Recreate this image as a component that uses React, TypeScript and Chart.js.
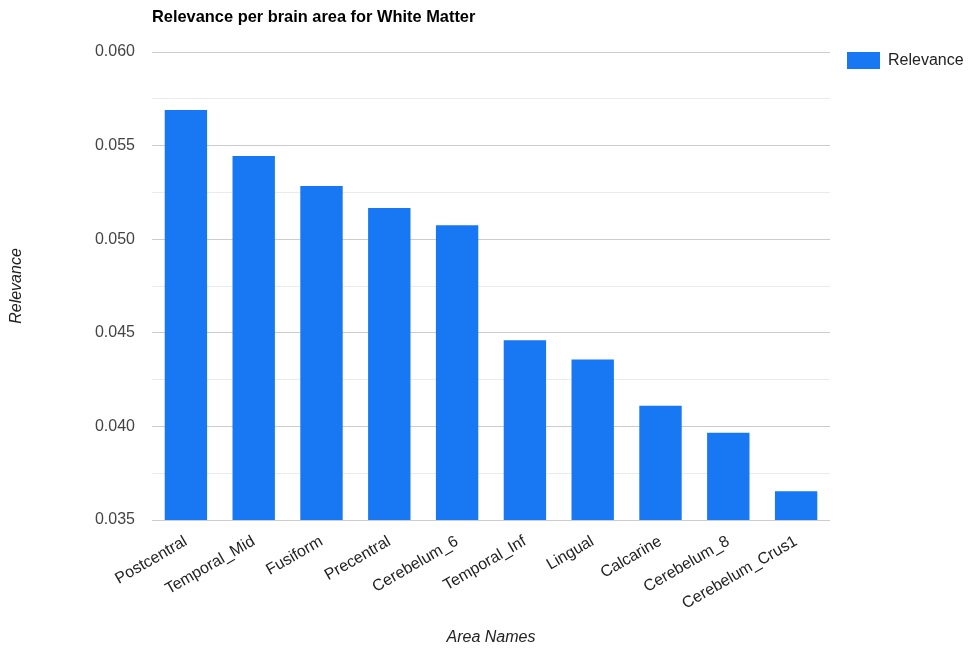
import React, { useEffect, useRef } from "react";
import { Chart, registerables } from "chart.js";

Chart.register(...registerables);

const categories = [
  "Postcentral",
  "Temporal_Mid",
  "Fusiform",
  "Precentral",
  "Cerebelum_6",
  "Temporal_Inf",
  "Lingual",
  "Calcarine",
  "Cerebelum_8",
  "Cerebelum_Crus1",
];
const relevance = [0.0569, 0.05444, 0.05284, 0.05166, 0.05075, 0.0446, 0.04358, 0.0411, 0.03966, 0.03653];
const seriesName = "Relevance";
const chartTitle = "Relevance per brain area for White Matter";
const xTitle = "Area Names";
const yTitle = "Relevance";
const yMin = 0.035;
const yMax = 0.06;
const yStep = 0.0025;

const FONT = "'Liberation Sans', Arial, sans-serif";
const BLUE = "#1877f2";

const titlePlugin = {
  id: "leftTitle",
  afterDraw(chart: any) {
    const ctx = chart.ctx;
    ctx.save();
    ctx.font = `bold 16.4px ${FONT}`;
    ctx.fillStyle = "#000";
    ctx.textAlign = "left";
    ctx.textBaseline = "alphabetic";
    ctx.fillText(chartTitle, chart.chartArea.left, 22);
    ctx.restore();
  },
};

const legendShift = {
  id: "legendShift",
  afterLayout(chart: any) {
    if (chart.legend) {
      chart.legend.top = chart.chartArea.top - 17;
      chart.legend.left = 830;
    }
  },
};

export default function App() {
  const ref = useRef<HTMLCanvasElement | null>(null);
  useEffect(() => {
    if (!ref.current) return;
    const chart = new Chart(ref.current, {
      type: "bar",
      data: {
        labels: categories,
        datasets: [
          {
            label: seriesName,
            data: relevance,
            backgroundColor: BLUE,
            borderWidth: 0,
            barPercentage: 0.625,
            categoryPercentage: 1,
          },
        ],
      },
      plugins: [titlePlugin, legendShift],
      options: {
        responsive: false,
        animation: false,
        layout: { padding: { top: 52, right: 0, bottom: 0, left: 0 } },
        plugins: {
          title: { display: false },
          tooltip: { enabled: false },
          legend: {
            display: true,
            position: "right",
            align: "start",
            maxWidth: 139,
            labels: {
              boxWidth: 33,
              boxHeight: 17,
              padding: 17,
              color: "#222",
              font: { family: FONT, size: 16 },
            },
          },
        },
        scales: {
          x: {
            grid: { display: false },
            border: { display: false },
            ticks: {
              minRotation: 30,
              maxRotation: 30,
              autoSkip: false,
              color: "#222",
              padding: 4,
              font: { family: FONT, size: 16 },
            },
            title: {
              display: true,
              text: xTitle,
              color: "#222",
              font: { family: FONT, size: 16, style: "italic" },
              padding: { top: 0, bottom: 6 },
            },
            afterFit(scale: any) {
              scale.height = 133;
            },
          },
          y: {
            min: yMin,
            max: yMax,
            border: { display: false },
            grid: {
              drawTicks: false,
              color: (c: any) => {
                const v = c.tick ? c.tick.value : 0;
                const k = Math.round((v - yMin) / yStep);
                return k % 2 === 0 ? "#cccccc" : "#ebebeb";
              },
              lineWidth: 1,
            },
            ticks: {
              stepSize: yStep,
              padding: 17,
              color: "#444",
              font: { family: FONT, size: 16 },
              callback: (v: any) => {
                const k = Math.round((Number(v) - yMin) / yStep);
                return k % 2 === 0 ? Number(v).toFixed(3) : "";
              },
            },
            title: {
              display: true,
              text: yTitle,
              color: "#222",
              font: { family: FONT, size: 16, style: "italic" },
              padding: { top: 7, bottom: 0 },
            },
            afterFit(scale: any) {
              scale.width = 152;
            },
          },
        },
      },
    });
    return () => chart.destroy();
  }, []);
  return (
    <div style={{ position: "absolute", left: 0, top: 0, width: 969, height: 653, background: "#fff" }}>
      <canvas ref={ref} width={969} height={653} style={{ display: "block" }} />
    </div>
  );
}
